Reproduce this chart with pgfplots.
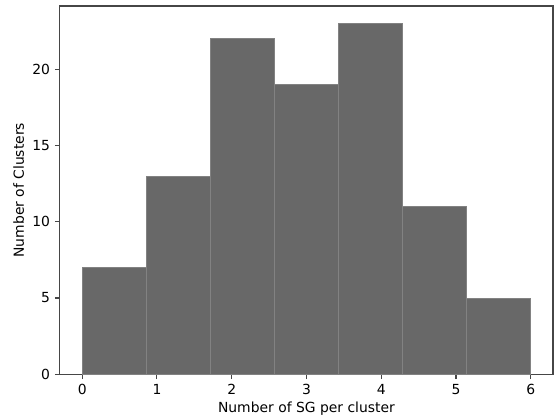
\documentclass[border=0pt]{standalone}
\usepackage{fontspec}
\setmainfont{DejaVu Sans}
\usepackage{pgfplots}
\pgfplotsset{compat=1.18}
\definecolor{barfill}{RGB}{104,104,104}
\definecolor{baredge}{RGB}{130,130,130}
\definecolor{frame}{RGB}{70,70,70}
\begin{document}
\begin{tikzpicture}
\begin{axis}[
  ybar interval,
  scale only axis,
  width=355pt, height=265pt,
  xmin=-0.3, xmax=6.3,
  ymin=0, ymax=24.15,
  xtick={0,1,2,3,4,5,6},
  ytick={0,5,10,15,20},
  xmajorgrids=false, ymajorgrids=false,
  x tick label as interval=false,
  tick align=outside,
  tick pos=left,
  major tick length=3.5pt,
  clip=false,
  axis line style={frame, line width=0.9pt},
  every tick/.style={frame, line width=0.8pt},
  /pgf/number format/assume math mode=true,
  tick label style={font=\fontsize{10}{12}\selectfont},
  label style={font=\fontsize{10}{12}\selectfont},
  xlabel={Number of SG per cluster},
  ylabel={Number of Clusters},
  xlabel style={yshift=1.5pt},
  ylabel style={yshift=-1pt},
]
\addplot[fill=barfill, draw=baredge, line width=0.4pt] coordinates {
  (0,7) (0.857143,13) (1.714286,22) (2.571429,19) (3.428571,23) (4.285714,11) (5.142857,5) (6,5)
};
\draw[frame, line width=1pt] (rel axis cs:1,0) -- (rel axis cs:1,1);
\end{axis}
\path (current axis.south west) ++(-43pt,-31pt) coordinate (bl);
\path (current axis.north east) ++(3.5pt,4.3pt) coordinate (tr);
\pgfresetboundingbox
\path[use as bounding box] (bl) rectangle (tr);
\end{tikzpicture}
\end{document}
